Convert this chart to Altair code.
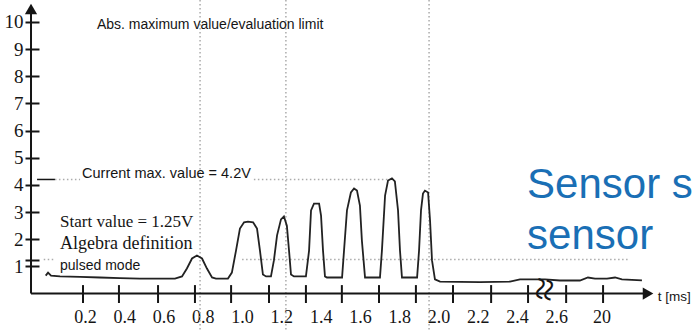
import altair as alt
import pandas as pd

# ---------------- data ----------------
# measured signal: time [ms] and voltage [V]
wave_t = [0.000, 0.012, 0.027, 0.073, 0.175, 0.276, 0.378, 0.480, 0.582, 0.658,
          0.694, 0.719, 0.745, 0.770, 0.796, 0.821, 0.847, 0.867, 0.928, 0.948,
          0.969, 0.989, 1.010, 1.030, 1.056, 1.076, 1.091, 1.106, 1.122, 1.147,
          1.162, 1.178, 1.198, 1.213, 1.228, 1.239, 1.249, 1.264, 1.325, 1.341,
          1.351, 1.366, 1.392, 1.402, 1.412, 1.422, 1.432, 1.509, 1.519, 1.534,
          1.554, 1.570, 1.585, 1.600, 1.610, 1.626, 1.702, 1.712, 1.728, 1.743,
          1.763, 1.778, 1.794, 1.804, 1.814, 1.891, 1.901, 1.911, 1.921, 1.931,
          1.947, 1.957, 1.967, 1.982, 2.008, 2.211, 2.364, 2.415, 2.542, 2.618,
          2.720, 2.761, 2.797, 2.858, 2.899, 2.934, 3.036]
wave_v = [0.66, 0.77, 0.66, 0.63, 0.61, 0.59, 0.57, 0.55, 0.55, 0.55,
          0.63, 0.92, 1.29, 1.40, 1.29, 0.92, 0.59, 0.55, 0.55, 0.77,
          1.58, 2.39, 2.62, 2.65, 2.62, 2.39, 1.58, 0.70, 0.63, 0.63,
          1.22, 2.14, 2.73, 2.84, 2.50, 1.58, 0.70, 0.63, 0.63, 1.58,
          3.06, 3.31, 3.31, 2.87, 1.58, 0.63, 0.59, 0.59, 1.58, 3.06,
          3.72, 3.87, 3.79, 3.24, 1.95, 0.59, 0.59, 1.58, 3.61, 4.16,
          4.24, 4.13, 3.06, 1.58, 0.59, 0.59, 1.58, 3.06, 3.68, 3.79,
          3.72, 2.69, 1.22, 0.52, 0.44, 0.42, 0.44, 0.52, 0.52, 0.48,
          0.48, 0.59, 0.55, 0.55, 0.59, 0.52, 0.48]

# axis labels and ticks
x_label_values = [0.2, 0.4, 0.6, 0.8, 1.0, 1.2, 1.4, 1.6, 1.8, 2.0, 2.2, 2.4, 2.6, 2.83]
x_tick_marks = [0.190, 0.373, 0.572, 0.760, 0.944, 1.137, 1.325, 1.508, 1.697,
                1.885, 2.074, 2.268, 2.456, 2.650, 2.838]
y_tick_values = [1, 1.25, 2, 3, 4, 5, 6, 7, 8, 9, 10]

# reference levels / markers
start_value = 1.25
current_max = 4.2
marker_times = [0.786, 1.223, 1.952]
max_seg_start = [0.047, 1.060]
max_seg_end = [0.175, 1.753]
start_seg_start = [-0.010, 1.000]
start_seg_end = [0.040, 2.965]
break_time = 2.535

# ---------------- scales & axes ----------------
XMIN, XMAX = -0.2327, 3.3112
YMIN, YMAX = -1.344, 10.810
xs = alt.Scale(domain=[XMIN, XMAX], nice=False, zero=False)
ys = alt.Scale(domain=[YMIN, YMAX], nice=False, zero=False)
AX_T = -0.0748     # time position of the vertical axis line
DOT = "#ababab"
INK = "#151515"

XAXIS = alt.Axis(
    values=x_label_values, ticks=False, domain=False, grid=False,
    labelExpr="datum.value > 2.7 ? '20' : format(datum.value, '.1f')",
    labelFont="Liberation Serif", labelFontSize=18, labelColor=INK,
    labelPadding=0, offset=-22, title=None, labelFlush=False, labelOverlap=False)
YAXIS = alt.Axis(
    values=y_tick_values, domain=False, grid=False, ticks=True,
    tickSize=14, tickWidth=2, tickColor=INK,
    labelExpr="datum.value == 1.25 ? '' : format(datum.value, 'd')",
    labelFont="Liberation Serif", labelFontSize=19, labelColor=INK,
    labelPadding=2, offset=-39, title=None, labelFlush=False, labelOverlap=False)


def X(field="t"):
    return alt.X(field, type="quantitative", scale=xs, axis=XAXIS)


def Y(field="v"):
    return alt.Y(field, type="quantitative", scale=ys, axis=YAXIS)


def XD(val):
    return alt.XDatum(val, type="quantitative", scale=xs, axis=XAXIS)


def YD(val):
    return alt.YDatum(val, type="quantitative", scale=ys, axis=YAXIS)


wave_df = pd.DataFrame({"t": wave_t, "v": wave_v, "i": range(len(wave_t))})

vlines = alt.Chart(pd.DataFrame({"t": marker_times})).mark_rule(
    color=DOT, strokeWidth=1.5, strokeDash=[1.5, 2.5]).encode(x=X())

hmax = alt.Chart(pd.DataFrame({"t": max_seg_start, "t2": max_seg_end, "v": [current_max] * 2})).mark_rule(
    color=DOT, strokeWidth=1.5, strokeDash=[1.5, 2.5]).encode(x=X(), x2="t2", y=Y())
hstart = alt.Chart(pd.DataFrame({"t": start_seg_start, "t2": start_seg_end, "v": [start_value] * 2})).mark_rule(
    color=DOT, strokeWidth=1.5, strokeDash=[1.5, 2.5]).encode(x=X(), x2="t2", y=Y())
maxdash = alt.Chart(pd.DataFrame({"v": [current_max]})).mark_rule(color=INK, strokeWidth=1.5).encode(
    x=XD(-0.044), x2=alt.datum(0.047), y=Y())

axis_x = alt.Chart(pd.DataFrame({"v": [0.0]})).mark_rule(color=INK, strokeWidth=2).encode(
    x=XD(AX_T), x2=alt.datum(3.05), y=Y())
axis_y = alt.Chart(pd.DataFrame({"t": [AX_T]})).mark_rule(color=INK, strokeWidth=2).encode(
    x=X(), y=YD(0.0), y2=alt.datum(10.4))
xticks = alt.Chart(pd.DataFrame({"t": x_tick_marks})).mark_rule(color=INK, strokeWidth=2).encode(
    x=X(), y=YD(0.31), y2=alt.datum(-0.35))

arrow_up = alt.Chart(pd.DataFrame({"t": [AX_T], "v": [10.48]})).mark_point(
    shape="triangle-up", filled=True, color=INK, size=150, opacity=1).encode(x=X(), y=Y())
arrow_right = alt.Chart(pd.DataFrame({"t": [3.067], "v": [0.0]})).mark_point(
    shape="triangle-right", filled=True, color=INK, size=150, opacity=1).encode(x=X(), y=Y())

wave = alt.Chart(wave_df).mark_line(color="#222222", strokeWidth=1.8, interpolate="linear").encode(
    x=X(), y=Y(), order="i:Q")

brk = alt.Chart(pd.DataFrame({"t": [break_time], "v": [0.15], "s": ["≈"]})).mark_text(
    fontSize=42, angle=100, color=INK, font="Liberation Serif").encode(x=X(), y=Y(), text="s:N")


def label(t, v, s, font="Liberation Sans", size=14, weight="normal", color=INK, baseline="middle"):
    return alt.Chart(pd.DataFrame({"t": [t], "v": [v], "s": [s]})).mark_text(
        align="left", baseline=baseline, font=font, fontSize=size, fontWeight=weight, color=color
    ).encode(x=X(), y=Y(), text="s:N")


texts = [
    label(0.261, 9.89, "Abs. maximum value/evaluation limit", size=14),
    label(0.185, 4.40, "Current max. value = 4.2V", size=14.5),
    label(0.073, 2.63, "Start value = 1.25V", font="Liberation Serif", size=17),
    label(0.073, 1.82, "Algebra definition", font="Liberation Serif", size=18),
    label(0.073, 1.01, "pulsed mode", size=14),
    label(3.117, -0.13, "t [ms]", size=13.5),
    label(2.451, 3.52, "Sensor s", size=42, color="#1A6FB5", baseline="alphabetic"),
    label(2.451, 1.64, "sensor", size=42, color="#1A6FB5", baseline="alphabetic"),
]

chart = alt.layer(
    vlines, hmax, hstart, maxdash, axis_x, axis_y, xticks,
    arrow_up, arrow_right, wave, brk, *texts
).properties(
    width=696, height=330, padding=0,
    autosize=alt.AutoSizeParams(type="none"),
    background="white",
).configure_view(stroke=None).configure_axis(
    labelFont="Liberation Serif"
)

chart.save("out.html", embed_options={"renderer": "svg", "actions": False})
